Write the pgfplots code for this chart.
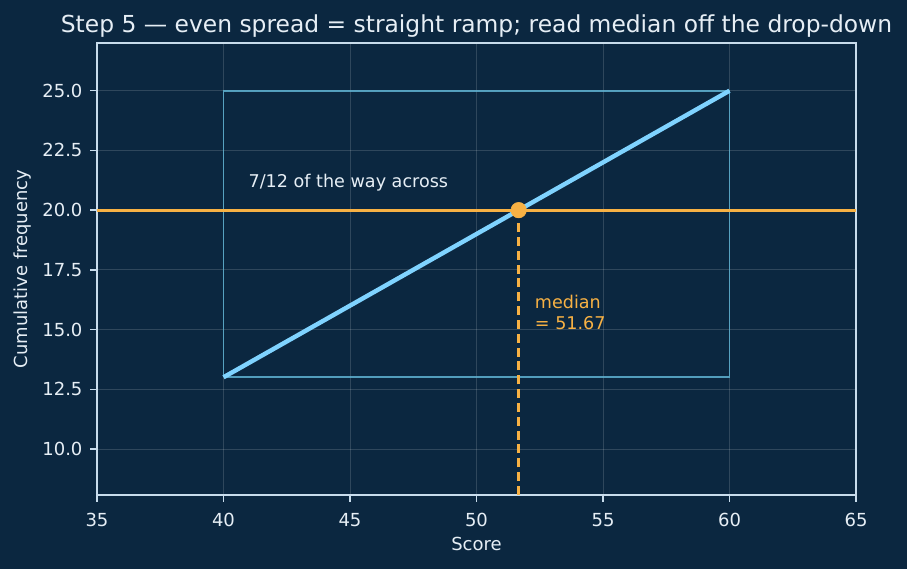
\documentclass[border=0pt]{standalone}
\usepackage{pgfplots}
\pgfplotsset{compat=1.18}
\usepackage{fontspec}
\setmainfont{DejaVu Sans}
\definecolor{bg}{HTML}{0B2740}
\definecolor{fg}{HTML}{E6EEF5}
\definecolor{spine}{HTML}{C8DCEC}
\definecolor{ramp}{HTML}{7FD3FF}
\definecolor{boxc}{HTML}{5FB2D2}
\definecolor{orng}{HTML}{F7B144}
\begin{document}
\begin{tikzpicture}
\fill[bg] (-0.97in,-0.74in) rectangle (8.10in,4.95in);
\begin{axis}[
  at={(0,0)}, anchor=south west,
  scale only axis, width=7.59in, height=4.52in,
  xmin=35, xmax=65, ymin=8.07, ymax=27,
  xtick={35,40,...,65},
  ytick={10,12.5,15,17.5,20,22.5,25},
  yticklabel style={xshift=-2pt, /pgf/number format/.cd,fixed,fixed zerofill,precision=1},
  /pgf/number format/assume math mode=true,
  axis line style={spine, line width=1.1pt},
  tick style={spine, line width=1pt},
  major tick length=5pt,
  tick align=outside, xtick pos=bottom, ytick pos=left,
  ticklabel style={font=\fontsize{13}{15}\selectfont, text=fg},
  xticklabel style={yshift=-4.4pt},
  grid=major,
  major grid style={white, opacity=0.15, line width=0.6pt},
  xlabel={Score}, ylabel={Cumulative frequency},
  label style={font=\fontsize{13}{15}\selectfont, text=fg},
  xlabel style={yshift=-1pt},
  ylabel style={yshift=1.5pt},
  title={Step 5 — even spread = straight ramp; read median off the drop-down},
  title style={font=\fontsize{16.9}{19}\selectfont, text=fg, yshift=-5.5pt},
  axis background/.style={fill=bg},
  clip=false,
]
\addplot[boxc, line width=1.4pt, opacity=0.85] coordinates {(40,13) (60,13) (60,25) (40,25) (40,13)};
\addplot[ramp, line width=3.2pt] coordinates {(40,13) (60,25)};
\addplot[orng, line width=2.2pt] coordinates {(35,20) (65,20)};
\addplot[orng, line width=1.8pt, dash pattern=on 6.5pt off 3.5pt] coordinates {(51.6667,8.07) (51.6667,20)};
\addplot[only marks, mark=*, mark size=5.6pt, orng, mark options={draw=orng, fill=orng}] coordinates {(51.6667,20)};
\node[anchor=west, text=fg, font=\fontsize{12.7}{15}\selectfont] at (axis cs:40.8,21.15) {7/12 of the way across};
\node[anchor=north west, text=orng, font=\fontsize{12.7}{15.5}\selectfont, align=left, inner sep=0pt] at (axis cs:52.3,16.45) {median\\= 51.67};
\end{axis}
\end{tikzpicture}
\end{document}
